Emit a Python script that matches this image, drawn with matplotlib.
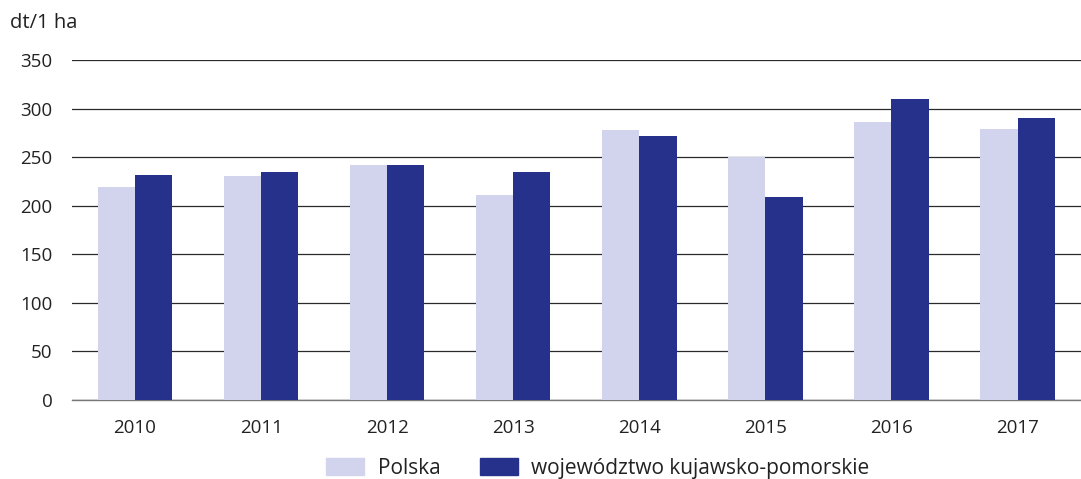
import numpy as np
import matplotlib.pyplot as plt
from matplotlib.patches import Patch

plt.rcParams['font.family'] = ['Open Sans', 'DejaVu Sans']

# dane
lata = ['2010', '2011', '2012', '2013', '2014', '2015', '2016', '2017']
polska = [219, 231, 242, 211, 278, 250, 286, 279]
kujawsko_pomorskie = [232, 235, 242, 235, 272, 209, 310, 290]
y_ticks = [0, 50, 100, 150, 200, 250, 300, 350]

kolor_pl = '#d2d3ed'
kolor_kp = '#25318a'

fig = plt.figure(figsize=(10.81, 4.79), dpi=100)
ax = fig.add_axes([0.0666, 0.1649, 0.933, 0.7098])

x = np.arange(len(lata))
w = 0.295
ax.bar(x - w / 2, polska, width=w, color=kolor_pl, zorder=3)
ax.bar(x + w / 2, kujawsko_pomorskie, width=w, color=kolor_kp, zorder=3)

ax.set_xlim(-0.5, len(lata) - 0.5)
ax.set_ylim(0, 350)
ax.set_yticks(y_ticks)
ax.set_xticks(x)
ax.set_xticklabels(lata)
ax.tick_params(axis='both', length=0, labelsize=13.5, colors='#222222')
ax.tick_params(axis='x', pad=14)
ax.tick_params(axis='y', pad=14)

ax.yaxis.grid(True, color='#2a2a2a', linewidth=0.9, zorder=0)
for s in ['top', 'right', 'left']:
    ax.spines[s].set_visible(False)
ax.spines['bottom'].set_color('#777777')
ax.spines['bottom'].set_linewidth(1.0)

fig.text(0.009, 0.953, 'dt/1 ha', fontsize=14.5, color='#222222', va='center')

uchwyty = [Patch(color=kolor_pl), Patch(color=kolor_kp)]
fig.legend(uchwyty, ['Polska', 'województwo kujawsko-pomorskie'],
           loc='center', bbox_to_anchor=(0.553, 0.022), ncol=2, frameon=False,
           fontsize=15, handlelength=1.83, handleheight=0.91, columnspacing=1.9,
           handletextpad=0.63, labelcolor='#222222', borderpad=0)

fig.savefig('out.png', dpi=100)
